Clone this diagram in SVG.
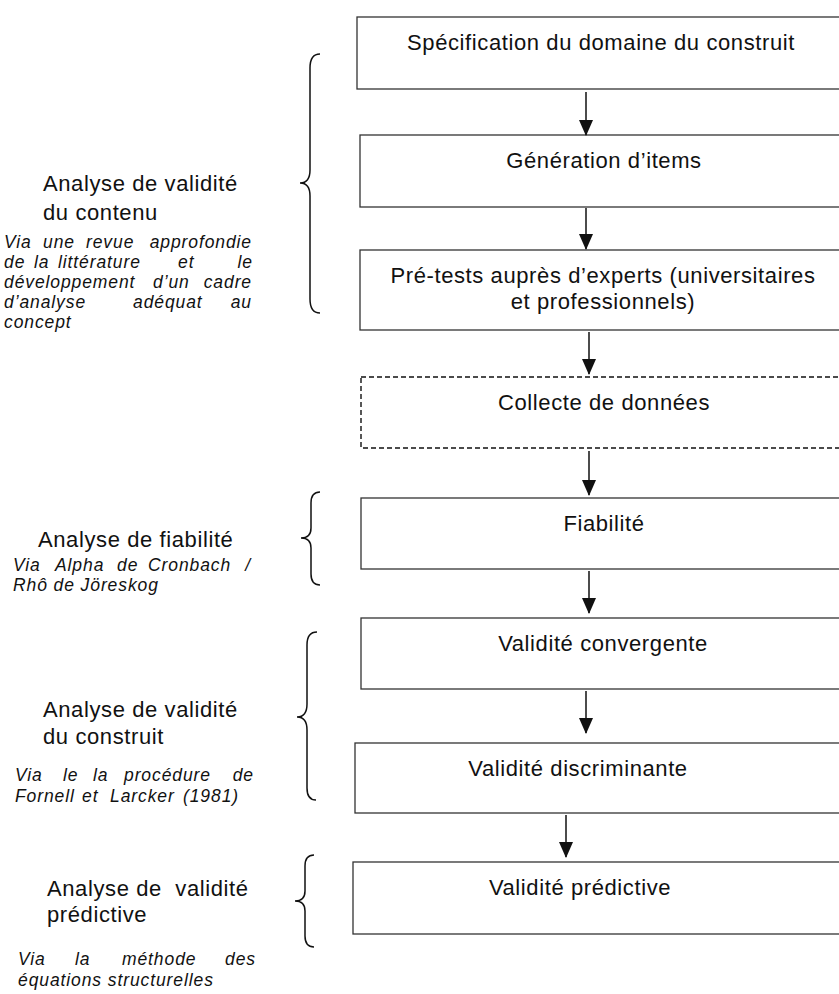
<svg xmlns="http://www.w3.org/2000/svg" width="839" height="994" viewBox="0 0 839 994">
<style>
.box{fill:#fff;stroke:#333;stroke-width:1.3}
.dash{fill:#fff;stroke:#111;stroke-width:1.4;stroke-dasharray:5 3}
.t{font-family:"Liberation Sans",Arial,sans-serif;font-size:22px;letter-spacing:0.6px;fill:#111}
.c{text-anchor:middle}
.i{font-family:"Liberation Sans",Arial,sans-serif;font-size:17.5px;font-style:italic;letter-spacing:0.9px;fill:#111}
.e{text-anchor:end}
.br{fill:none;stroke:#111;stroke-width:1.5}
.ar{stroke:#111;stroke-width:1.5;fill:none}
</style>
<defs>
<marker id="arr" markerUnits="userSpaceOnUse" markerWidth="16" markerHeight="14" viewBox="0 0 16 14" refX="15" refY="7" orient="auto">
<path d="M0,0 L16,7 L0,14 z" fill="#111"/>
</marker>
</defs>
<rect width="839" height="994" fill="#fff"/>

<g id="node-specification">
<rect class="box" x="357" y="17" width="520" height="72"/>
<text class="t c" x="601" y="50">Spécification du domaine du construit</text>
</g>
<g id="node-generation">
<rect class="box" x="360" y="135" width="520" height="72"/>
<text class="t c" x="604" y="168">Génération d’items</text>
</g>
<g id="node-pretests">
<rect class="box" x="360" y="250" width="520" height="80"/>
<text class="t c" x="603" y="283">Pré-tests auprès d’experts (universitaires</text>
<text class="t c" x="603" y="309">et professionnels)</text>
</g>
<g id="node-collecte">
<rect class="dash" x="361" y="377" width="520" height="71"/>
<text class="t c" x="604" y="410">Collecte de données</text>
</g>
<g id="node-fiabilite">
<rect class="box" x="361" y="498" width="520" height="71"/>
<text class="t c" x="604" y="531">Fiabilité</text>
</g>
<g id="node-convergente">
<rect class="box" x="361" y="618" width="520" height="71"/>
<text class="t c" x="603" y="651">Validité convergente</text>
</g>
<g id="node-discriminante">
<rect class="box" x="355" y="743" width="520" height="70"/>
<text class="t c" x="578" y="776">Validité discriminante</text>
</g>
<g id="node-predictive">
<rect class="box" x="353" y="862" width="520" height="72"/>
<text class="t c" x="580" y="895">Validité prédictive</text>
</g>

<g id="connectors">
<line class="ar" x1="586" y1="92" x2="586" y2="135" marker-end="url(#arr)"/>
<line class="ar" x1="586" y1="208" x2="586" y2="249" marker-end="url(#arr)"/>
<line class="ar" x1="589" y1="332" x2="589" y2="374" marker-end="url(#arr)"/>
<line class="ar" x1="589" y1="451" x2="589" y2="495" marker-end="url(#arr)"/>
<line class="ar" x1="589" y1="571" x2="589" y2="613" marker-end="url(#arr)"/>
<line class="ar" x1="586" y1="691" x2="586" y2="733" marker-end="url(#arr)"/>
<line class="ar" x1="566" y1="815" x2="566" y2="857" marker-end="url(#arr)"/>
</g>

<g id="brace-contenu">
<path class="br" d="M320,54 Q310,54 310,68 L310,170 Q310,183 300,183 Q310,183 310,196 L310,299 Q310,313 320,313"/>
</g>
<g id="brace-fiabilite">
<path class="br" d="M320,492 Q311,492 311,503 L311,528 Q311,538 301,538 Q311,538 311,548 L311,574 Q311,585 320,585"/>
</g>
<g id="brace-construit">
<path class="br" d="M317,632 Q307,632 307,645 L307,704 Q307,717 297,717 Q307,717 307,730 L307,788 Q307,800 316,800"/>
</g>
<g id="brace-predictive">
<path class="br" d="M314,855 Q305,855 305,866 L305,891 Q305,901 295,901 Q305,901 305,911 L305,936 Q305,947 314,947"/>
</g>

<g id="label-contenu">
<text class="t" x="43" y="191">Analyse de validité</text>
<text class="t" x="43" y="220">du contenu</text>
<text class="i" y="248"><tspan x="4">Via</tspan><tspan x="43">une</tspan><tspan x="86">revue</tspan></text>
<text class="i e" x="252" y="248">approfondie</text>
<text class="i" y="268"><tspan x="4">de</tspan><tspan x="34">la</tspan><tspan x="58">littérature</tspan><tspan x="178">et</tspan></text>
<text class="i e" x="253" y="268">le</text>
<text class="i" y="288"><tspan x="4">développement</tspan><tspan x="153">d’un</tspan></text>
<text class="i e" x="252" y="288">cadre</text>
<text class="i" y="308"><tspan x="4">d’analyse</tspan><tspan x="133">adéquat</tspan></text>
<text class="i e" x="252" y="308">au</text>
<text class="i" x="4" y="328">concept</text>
</g>

<g id="label-fiabilite">
<text class="t" x="38" y="547">Analyse de fiabilité</text>
<text class="i" y="571"><tspan x="13">Via</tspan><tspan x="55">Alpha</tspan><tspan x="117">de</tspan><tspan x="148">Cronbach</tspan></text>
<text class="i e" x="251" y="571">/</text>
<text class="i" x="13" y="591">Rhô de Jöreskog</text>
</g>

<g id="label-construit">
<text class="t" x="43" y="717">Analyse de validité</text>
<text class="t" x="43" y="744">du construit</text>
<text class="i" y="781"><tspan x="15">Via</tspan><tspan x="63">le</tspan><tspan x="93">la</tspan><tspan x="124">procédure</tspan></text>
<text class="i e" x="254" y="781">de</text>
<text class="i" y="802"><tspan x="15">Fornell</tspan><tspan x="82">et</tspan><tspan x="110">Larcker</tspan><tspan x="183">(1981)</tspan></text>
</g>

<g id="label-predictive">
<text class="t" x="47" y="896" xml:space="preserve">Analyse de  validité</text>
<text class="t" x="47" y="922">prédictive</text>
<text class="i" y="965"><tspan x="18">Via</tspan><tspan x="75">la</tspan><tspan x="122">méthode</tspan></text>
<text class="i e" x="256" y="965">des</text>
<text class="i" x="18" y="986">équations structurelles</text>
</g>
</svg>
